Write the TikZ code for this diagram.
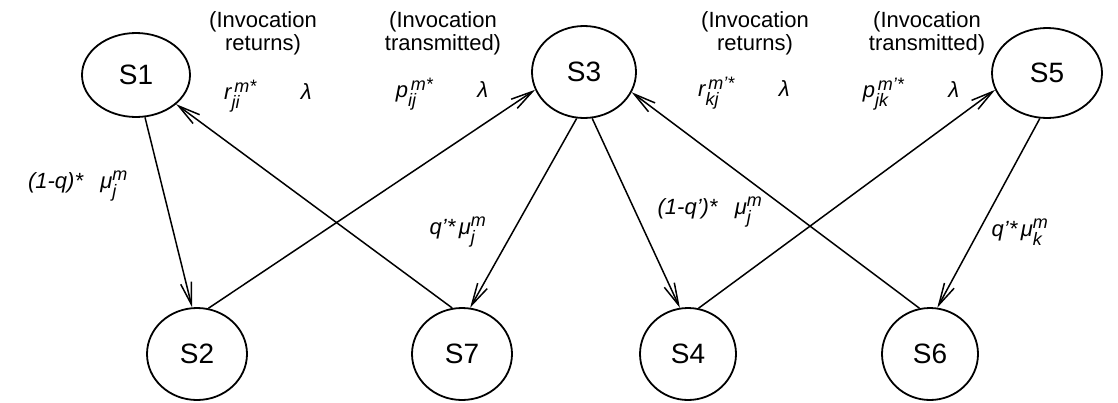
\documentclass[tikz,border=0pt]{standalone}
\usepackage{amsmath}
\usepackage{fontspec}
\setmainfont{Liberation Sans}
\DeclareMathSizes{22}{22}{18}{14}
\usetikzlibrary{shapes.geometric,arrows.meta}
\tikzset{
  state/.style={ellipse, draw, line width=1.8pt, inner sep=0pt, font=\fontsize{28}{30}\selectfont},
  arr/.style={line width=1.5pt, -{Straight Barb[length=22pt,width=11pt,line width=1.5pt]}},
  note/.style={align=center, font=\fontsize{22}{23}\selectfont, inner sep=0pt},
  rate/.style={inner sep=0pt, font=\fontsize{22}{24}\selectfont\itshape}
}
\begin{document}
\begin{tikzpicture}[x=1pt,y=-1pt]
\useasboundingbox (0,0) rectangle (1118,402);
% states
\node[state, minimum width=108pt, minimum height=84pt] (S1) at (136,75) {S1};
\node[state, minimum width=104pt, minimum height=92pt] (S3) at (584,72) {S3};
\node[state, minimum width=110pt, minimum height=90pt] (S5) at (1047,73) {S5};
\node[state, minimum width=100pt, minimum height=92pt] (S2) at (197,354) {S2};
\node[state, minimum width=100pt, minimum height=92pt] (S7) at (462,354) {S7};
\node[state, minimum width=96pt, minimum height=92pt] (S4) at (688,354) {S4};
\node[state, minimum width=96pt, minimum height=92pt] (S6) at (930,354) {S6};
% transitions
\draw[arr] (S1.282) -- (S2.96);
\draw[arr] (S7.102) -- (S1.324);
\draw[arr] (S2.76) -- (S3.200);
\draw[arr] (S3.261) -- (S7.80);
\draw[arr] (S3.280) -- (S4.100);
\draw[arr] (S6.103) -- (S3.337);
\draw[arr] (S4.77) -- (S5.198);
\draw[arr] (S5.261) -- (S6.81);
% notes
\node[note] (n1) at (263,33) {(Invocation\\returns)};
\node[note] (n2) at (443,33) {(Invocation\\transmitted)};
\node[note] (n3) at (755,33) {(Invocation\\returns)};
\node[note] (n4) at (927,33) {(Invocation\\transmitted)};
% rates
\node[rate] (r1) at (268,96) {$\textit{r}^{\,\textit{m*}}_{\textit{ji}}\qquad\textit{λ}$};
\node[rate] (r2) at (442,94) {$\textit{p}^{\,\textit{m*}}_{\textit{ij}}\qquad\textit{λ}$};
\node[rate] (r3) at (744,93) {$\textit{r}^{\,\textit{m'*}}_{\textit{kj}}\qquad\textit{λ}$};
\node[rate] (r4) at (911,94) {$\textit{p}^{\,\textit{m'*}}_{\textit{jk}}\qquad\textit{λ}$};
\node[rate] (r5) at (78,186) {$\textit{(1-q)*}\;\;\;\textit{μ}^{\textit{m}}_{\textit{j}}$};
\node[rate] (r6) at (458,232) {$\textit{q'*}\,\textit{μ}^{\textit{m}}_{\textit{j}}$};
\node[rate] (r7) at (710,212) {$\textit{(1-q')*}\;\;\;\textit{μ}^{\textit{m}}_{\textit{j}}$};
\node[rate] (r8) at (1020,232) {$\textit{q'*}\,\textit{μ}^{\textit{m}}_{\textit{k}}$};
\end{tikzpicture}
\end{document}
